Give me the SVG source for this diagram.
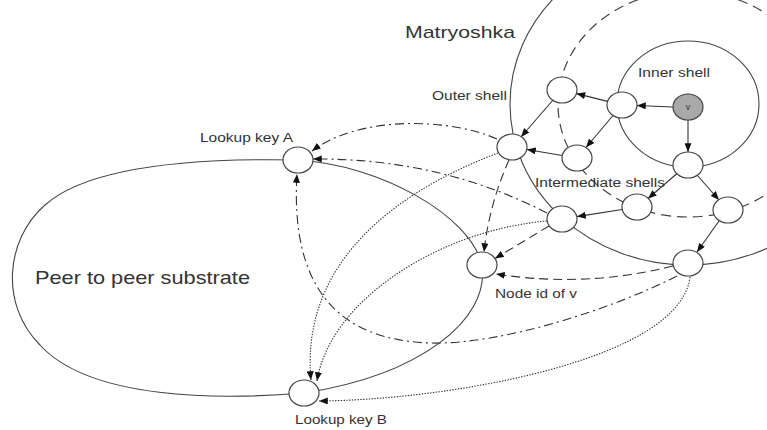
<svg xmlns="http://www.w3.org/2000/svg" width="767" height="430" viewBox="0 0 767 430">
<defs>
<style>
.shell{fill:none;stroke:#444;stroke-width:1.1}
.dshell{fill:none;stroke:#444;stroke-width:1.2;stroke-dasharray:10,6}
.e{fill:none;stroke:#333;stroke-width:1.1}
.solid{marker-end:url(#ah)}
.dash{stroke-dasharray:9,5;marker-end:url(#ah)}
.dd{stroke-dasharray:9,4,2,4;marker-end:url(#ah)}
.dot{stroke-dasharray:1.4,1.4;marker-end:url(#ah)}
.node{fill:#fff;stroke:#444;stroke-width:1.2}
.vnode{fill:#a9a9a9;stroke:#444;stroke-width:1.2}
.t{font-family:"Liberation Sans",Arial,sans-serif;fill:#333}
</style>
<marker id="ah" viewBox="0 0 10 8" refX="10" refY="4" markerWidth="9" markerHeight="7" markerUnits="userSpaceOnUse" orient="auto">
<path d="M0,0 L10,4 L0,8 z" fill="#111"/>
</marker>
</defs>
<rect width="767" height="430" fill="#fff"/>
<g id="shells">
<path id="p2p" class="shell" d="M298,160 C380,165 470,215 482,265 C490,320 420,375 304,393 C220,400 90,400 40,345 C0,305 5,240 45,205 C90,165 200,158 298,160 Z"/>
<ellipse id="outer-shell" class="shell" cx="688" cy="104" rx="178" ry="161"/>
<ellipse id="intermediate-shell" class="dshell" cx="688" cy="104" rx="130" ry="113"/>
<ellipse id="inner-shell" class="shell" cx="688" cy="104" rx="71" ry="63"/>
</g>
<g id="connectors">
<path class="e solid" d="M673,107 L637,105.5"/>
<path class="e solid" d="M688,120 L688,152"/>
<path class="e solid" d="M607.5,101.4 L576.5,93.6"/>
<path class="e solid" d="M613,115.5 L586,147.5"/>
<path class="e solid" d="M553,100 L521,137"/>
<path class="e solid" d="M562,155.5 L527,149.5"/>
<path class="e solid" d="M677,173.5 L648,198.5"/>
<path class="e solid" d="M697,175 L719,200"/>
<path class="e solid" d="M622,209.5 L577,216.6"/>
<path class="e solid" d="M719,221 L697,252"/>
<path class="e dash" d="M509,160 Q489,205 484,252"/>
<path class="e dash" d="M549,226 L495,258.5"/>
<path class="e dash" d="M673,266 Q585,288 496,274"/>
<path class="e dd" d="M497,139 C450,118 360,115 312,151"/>
<path class="e dd" d="M547,213 Q440,158 313,159"/>
<path class="e dd" d="M677,276 C610,310 500,345 430,343 C340,340 290,290 297,174"/>
<path class="e dot" d="M498,153 C400,190 300,260 311,380"/>
<path class="e dot" d="M547,221 C440,230 330,300 317,381"/>
<path class="e dot" d="M690,277 C680,360 450,400 319,401"/>
</g>
<g id="node-v"><ellipse class="vnode" cx="688" cy="107" rx="15" ry="13"/><text class="t" x="688" y="110" font-size="9" text-anchor="middle">v</text></g>
<g id="node-n1"><ellipse class="node" cx="622" cy="105" rx="15" ry="13"/></g>
<g id="node-n2"><ellipse class="node" cx="562" cy="90" rx="15" ry="13"/></g>
<g id="node-n3"><ellipse class="node" cx="512" cy="147" rx="15" ry="13"/></g>
<g id="node-n4"><ellipse class="node" cx="577" cy="158" rx="15" ry="13"/></g>
<g id="node-n5"><ellipse class="node" cx="688" cy="165" rx="15" ry="13"/></g>
<g id="node-n6"><ellipse class="node" cx="637" cy="207" rx="15" ry="13"/></g>
<g id="node-n7"><ellipse class="node" cx="728" cy="210" rx="15" ry="13"/></g>
<g id="node-n8"><ellipse class="node" cx="562" cy="219" rx="15" ry="13"/></g>
<g id="node-nodeid"><ellipse class="node" cx="482" cy="265" rx="15" ry="13"/></g>
<g id="node-n10"><ellipse class="node" cx="688" cy="263" rx="15" ry="13"/></g>
<g id="node-keyA"><ellipse class="node" cx="298" cy="160" rx="15" ry="13"/></g>
<g id="node-keyB"><ellipse class="node" cx="304" cy="393" rx="15" ry="13"/></g>
<g id="labels">
<text class="t" x="405" y="38" font-size="17" textLength="110" lengthAdjust="spacingAndGlyphs" fill="#222">Matryoshka</text>
<text class="t" x="432" y="100" font-size="12" textLength="75" lengthAdjust="spacingAndGlyphs">Outer shell</text>
<text class="t" x="638" y="77" font-size="12" textLength="72" lengthAdjust="spacingAndGlyphs">Inner shell</text>
<text class="t" x="535" y="187" font-size="12.5" textLength="130" lengthAdjust="spacingAndGlyphs">Intermediate shells</text>
<text class="t" x="495" y="298" font-size="12.5" textLength="82" lengthAdjust="spacingAndGlyphs">Node id of v</text>
<text class="t" x="200" y="142" font-size="13" textLength="93" lengthAdjust="spacingAndGlyphs">Lookup key A</text>
<text class="t" x="295" y="424" font-size="13" textLength="92" lengthAdjust="spacingAndGlyphs">Lookup key B</text>
<text class="t" x="35" y="284" font-size="19" textLength="215" lengthAdjust="spacingAndGlyphs" fill="#222">Peer to peer substrate</text>
</g>
</svg>
